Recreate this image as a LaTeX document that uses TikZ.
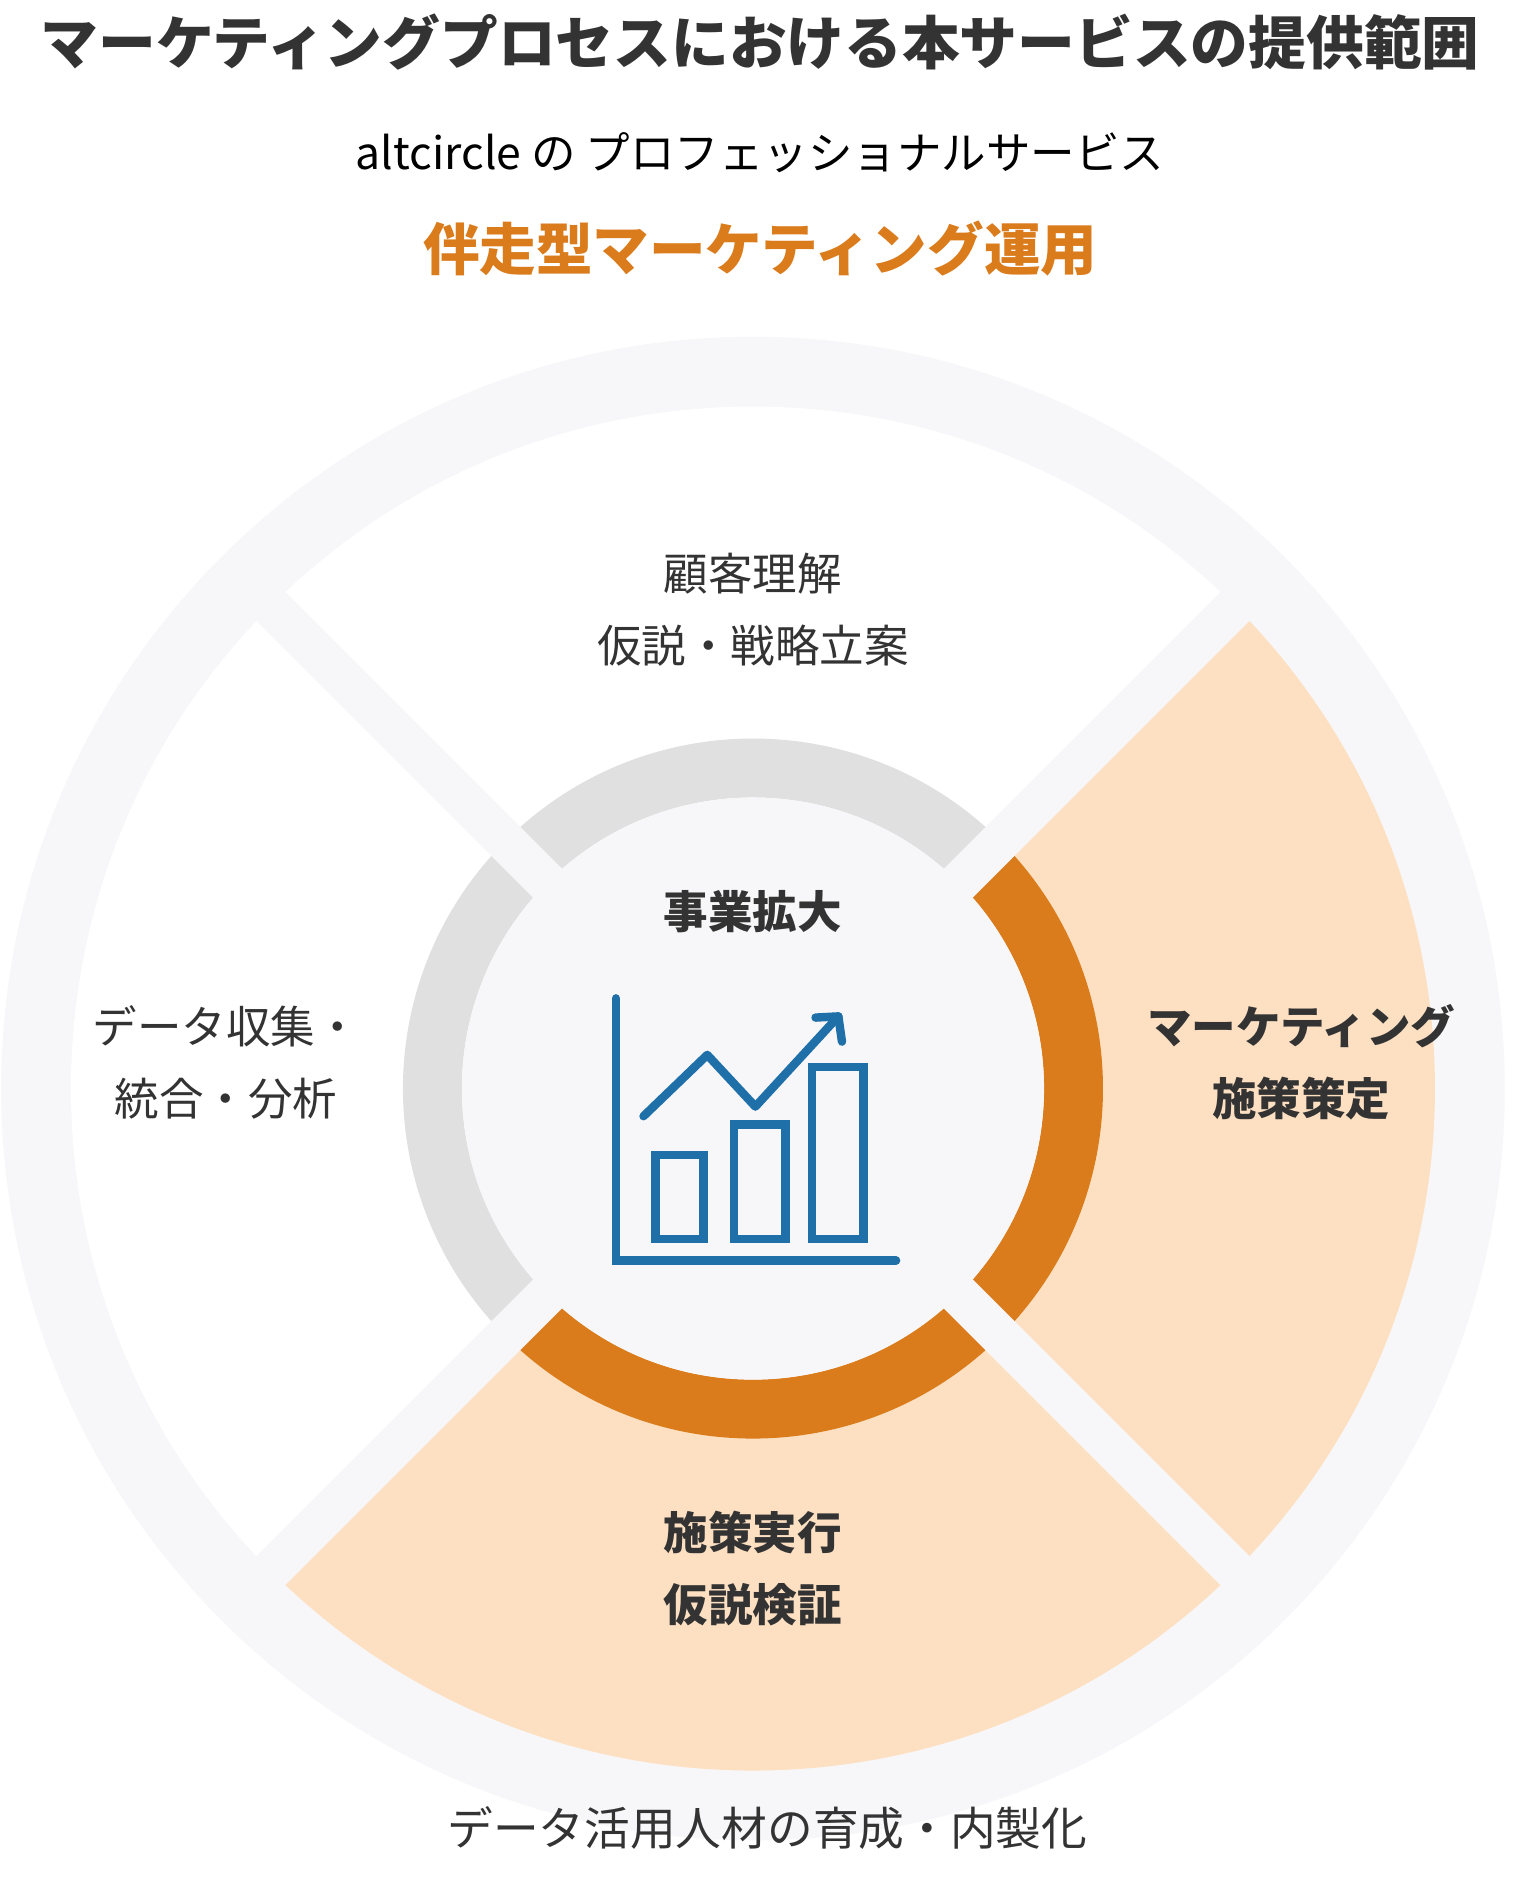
\documentclass[tikz,border=0pt]{standalone}
\usepackage{fontspec}
\setmainfont{Noto Sans CJK JP}
\usetikzlibrary{calc}
\definecolor{bg}{HTML}{F7F7F9}
\definecolor{peach}{HTML}{FDE0C2}
\definecolor{orng}{HTML}{DA7B1C}
\definecolor{ringgray}{HTML}{E0E0E0}
\definecolor{ink}{HTML}{333333}
\definecolor{iconblue}{HTML}{1F6FA8}
\tikzset{lbl/.style={text=ink,align=center,font=\fontsize{37}{60}\selectfont},
 blbl/.style={lbl,font=\fontsize{37}{60}\selectfont\bfseries}}
\begin{document}
\begin{tikzpicture}[x=1pt,y=-1pt]
\useasboundingbox (0,0) rectangle (1264,1563);
\fill[white] (0,0) rectangle (1264,1563);
\coordinate (C) at (626,905);
\fill[bg] (C) circle[radius=625];
\foreach \a/\c in {-45/peach,45/peach,135/white,225/white}{
 \fill[\c] (C) -- ($(C)+(\a:567)$) arc[start angle=\a,end angle=\a+90,radius=567] -- cycle;}
\foreach \a/\c in {-45/orng,45/orng,135/ringgray,225/ringgray}{
 \fill[\c] ($(C)+(\a:291)$) arc[start angle=\a,end angle=\a+90,radius=291] -- ($(C)+(\a+90:242)$) arc[start angle=\a+90,end angle=\a,radius=242] -- cycle;}
\draw[bg,line width=34] ($(C)+(45:600)$) -- ($(C)+(225:600)$);
\draw[bg,line width=34] ($(C)+(135:600)$) -- ($(C)+(315:600)$);
\fill[bg] (C) circle[radius=242];
% texts
\node[text=ink,font=\fontsize{48}{50}\selectfont\bfseries] (title) at (632,35) {マーケティングプロセスにおける本サービスの提供範囲};
\node[text=black,font=\fontsize{37}{40}\selectfont] (sub) at (632,127) {altcircle の プロフェッショナルサービス};
\node[text=orng,font=\fontsize{47}{50}\selectfont\bfseries] (svc) at (632,207) {伴走型マーケティング運用};
\node[lbl] (top) at (626,507) {顧客理解\\仮説・戦略立案};
\node[lbl] (left) at (188,883) {データ収集・\\統合・分析};
\node[blbl] (right) at (1082,883) {マーケティング\\施策策定};
\node[blbl] (bottom) at (626,1304) {施策実行\\仮説検証};
\node[blbl] (center) at (626,758) {事業拡大};
\node[lbl,font=\fontsize{38}{40}\selectfont] (foot) at (638,1520) {データ活用人材の育成・内製化};
% icon
\begin{scope}[iconblue,line width=7]
\draw[line cap=round] (512,830) -- (512,1048) -- (745,1048);
\draw (545,960) rectangle (585,1030);
\draw (610,935) rectangle (653,1030);
\draw (675,887) rectangle (718,1030);
\draw[line cap=round,line join=round] (535,928) -- (588,877) -- (628,920) -- (697,845);
\draw[line cap=round,line join=round] (678,846) -- (697,845) -- (700,866);
\end{scope}
\end{tikzpicture}
\end{document}
